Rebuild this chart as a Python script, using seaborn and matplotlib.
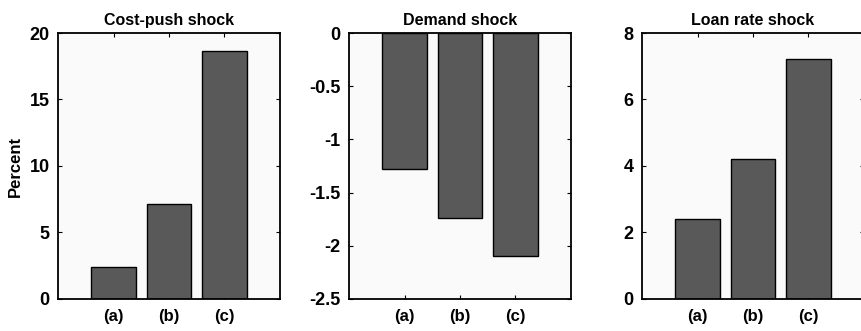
import pandas as pd
import matplotlib.pyplot as plt
import seaborn as sns

labels = ['(a)', '(b)', '(c)']
titles = ['Cost-push shock', 'Demand shock', 'Loan rate shock']
cost_push = [2.43, 7.15, 18.67]
demand = [-1.28, -1.74, -2.10]
loan_rate = [2.41, 4.20, 7.22]

sns.set_style('ticks')
plt.rcParams['font.family'] = ['Liberation Sans', 'DejaVu Sans']
plt.rcParams['font.weight'] = 'bold'
plt.rcParams['text.color'] = 'black'
plt.rcParams['xtick.color'] = 'black'
plt.rcParams['ytick.color'] = 'black'
plt.rcParams['axes.labelcolor'] = 'black'

fig = plt.figure(figsize=(8.62, 3.31), dpi=100)
lefts = [0.0673, 0.4049, 0.7448]
series = [cost_push, demand, loan_rate]
ylims = [(0, 20), (-2.5, 0), (0, 8)]
yticks = [[0, 5, 10, 15, 20], [-2.5, -2, -1.5, -1, -0.5, 0], [0, 2, 4, 6, 8]]
yticklabels = [['0', '5', '10', '15', '20'],
               ['-2.5', '-2', '-1.5', '-1', '-0.5', '0'],
               ['0', '2', '4', '6', '8']]

for i in range(3):
    ax = fig.add_axes([lefts[i], 0.0967, 0.2575, 0.8036])
    df = pd.DataFrame({'case': labels, 'value': series[i]})
    sns.barplot(data=df, x='case', y='value', color='#595959', saturation=1,
                edgecolor='black', linewidth=1.0, width=0.8, ax=ax)
    ax.set_facecolor('#fafafa')
    ax.set_xlim(-1, 3)
    ax.set_ylim(*ylims[i])
    ax.set_yticks(yticks[i])
    ax.set_yticklabels(yticklabels[i], fontsize=13, fontweight='bold')
    ax.set_xticks([0, 1, 2])
    ax.set_xticklabels(labels, fontsize=12, fontweight='bold')
    ax.set_xlabel('')
    ax.set_ylabel('Percent' if i == 0 else '', fontsize=12, fontweight='bold', labelpad=5)
    ax.set_title(titles[i], fontsize=11.5, fontweight='bold', pad=6)
    for s in ax.spines.values():
        s.set_visible(True)
        s.set_linewidth(1.3)
        s.set_color('black')
    ax.tick_params(direction='in', top=True, right=True, length=3, width=0.8)
    ax.tick_params(axis='x', pad=7)
    ax.tick_params(axis='y', pad=6)

plt.savefig('out.png', dpi=100)
